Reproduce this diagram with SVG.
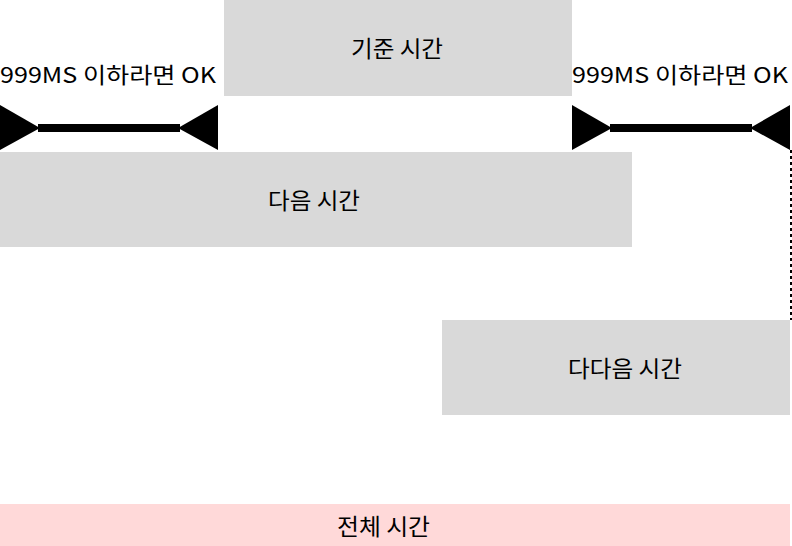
<svg xmlns="http://www.w3.org/2000/svg" width="792" height="546" viewBox="0 0 792 546">
<style>
.box{fill:#d9d9d9}
.total{fill:#ffd9d9}
text{font-family:"Noto Sans CJK KR","Noto Sans",sans-serif;font-size:23px;fill:#000}
.c{text-anchor:middle;dominant-baseline:central}
.lbl{font-size:22px;text-anchor:middle}
.bar{stroke:#000;stroke-width:8}
.head{fill:#000}
.dash{stroke:#000;stroke-width:2;stroke-dasharray:3 3;fill:none}
</style>
<rect width="792" height="546" fill="#fff"/>
<g id="base">
<rect class="box" x="224" y="0" width="348" height="96"/>
<text class="c" x="397" y="46.5" textLength="92" lengthAdjust="spacingAndGlyphs">기준 시간</text>
</g>
<g id="next">
<rect class="box" x="0" y="152" width="632" height="95"/>
<text class="c" x="314" y="199" textLength="92" lengthAdjust="spacingAndGlyphs">다음 시간</text>
</g>
<g id="nextnext">
<rect class="box" x="442" y="320" width="348" height="95"/>
<text class="c" x="625" y="366.5" textLength="114" lengthAdjust="spacingAndGlyphs">다다음 시간</text>
</g>
<g id="total">
<rect class="total" x="0" y="504" width="790" height="42"/>
<text class="c" x="383.5" y="524.5" textLength="93" lengthAdjust="spacingAndGlyphs">전체 시간</text>
</g>
<g id="label-left">
<text class="lbl" x="108" y="83" textLength="216" lengthAdjust="spacingAndGlyphs">999MS 이하라면 OK</text>
</g>
<g id="label-right">
<text class="lbl" x="680" y="83" textLength="216" lengthAdjust="spacingAndGlyphs">999MS 이하라면 OK</text>
</g>
<g id="connectors">
<line class="bar" x1="38" y1="128" x2="180" y2="128"/>
<polygon class="head" points="0,105 40,128 0,150"/>
<polygon class="head" points="218,105 178,128 218,150"/>
<line class="bar" x1="610" y1="128" x2="752" y2="128"/>
<polygon class="head" points="572,105 612,128 572,150"/>
<polygon class="head" points="790,105 750,128 790,150"/>
<line class="dash" x1="791" y1="150" x2="791" y2="320"/>
</g>
</svg>
